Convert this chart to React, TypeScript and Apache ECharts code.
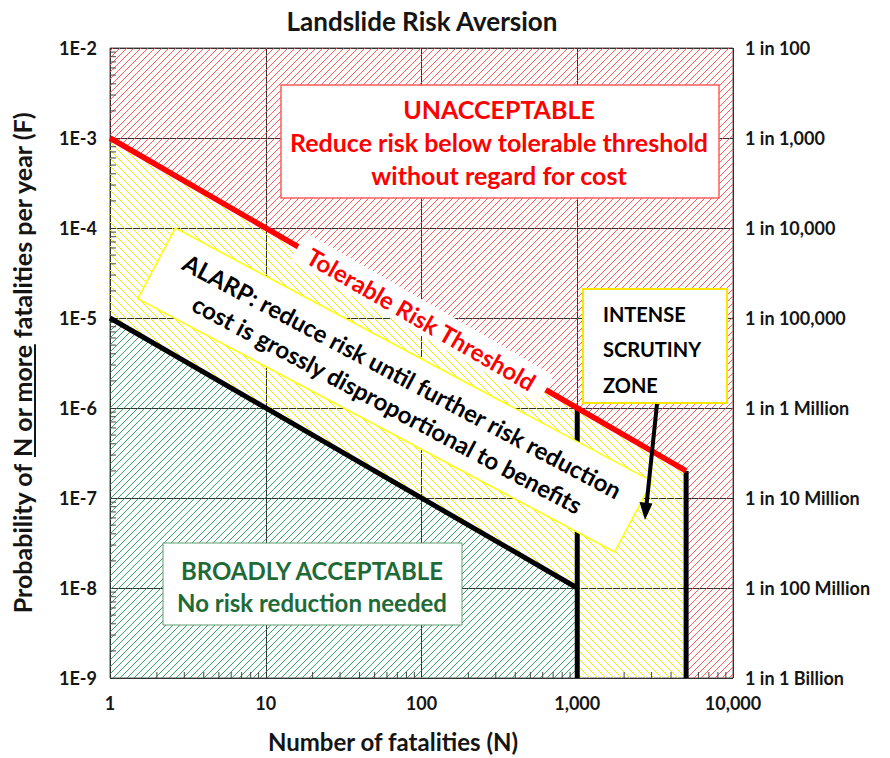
import React, { useEffect, useRef } from "react";
import * as echarts from "echarts";

const FONT = "Lato, 'Open Sans', 'DejaVu Sans', sans-serif";

// ---- text ----
const chartTitle = "Landslide Risk Aversion";
const xAxisTitle = "Number of fatalities (N)";
const yAxisTitleParts = ["Probability of ", "N or more", " fatalities per year (F)"];

// ---- axes ----
const nRange = [1, 10000];
const fRange = [1e-9, 1e-2];
const xTickLabels = ["1", "10", "100", "1,000", "10,000"]; // 10^0 .. 10^4
const yLeftLabels = ["1E-9", "1E-8", "1E-7", "1E-6", "1E-5", "1E-4", "1E-3", "1E-2"]; // 10^-9 .. 10^-2
const yRightLabels = [
  "1 in 1 Billion",
  "1 in 100 Million",
  "1 in 10 Million",
  "1 in 1 Million",
  "1 in 100,000",
  "1 in 10,000",
  "1 in 1,000",
  "1 in 100",
];
const minorMultipliers = [2, 3, 4, 5, 6, 7, 8, 9];
const xMinorDecades = [1, 10, 100, 1000];
const yMinorDecades = [1e-9, 1e-8, 1e-7, 1e-6, 1e-5, 1e-4, 1e-3];

// ---- criteria lines (N, F) ----
const tolerableLine: [number, number][] = [[1, 1e-3], [5000, 2e-7]];
const acceptableLine: [number, number][] = [[1, 1e-5], [1000, 1e-8]];
const alarpLimitLine: [number, number][] = [[1000, 1e-6], [1000, 1e-9]];
const scrutinyLimitLine: [number, number][] = [[5000, 2e-7], [5000, 1e-9]];

// ---- zones (polygons in N, F) ----
const unacceptableZone: [number, number][] = [
  [1, 1e-2], [10000, 1e-2], [10000, 1e-9], [5000, 1e-9], [5000, 2e-7], [1, 1e-3],
];
const alarpZone: [number, number][] = [
  [1, 1e-3], [5000, 2e-7], [5000, 1e-9], [1000, 1e-9], [1000, 1e-8], [1, 1e-5],
];
const acceptableZone: [number, number][] = [
  [1, 1e-5], [1000, 1e-8], [1000, 1e-9], [1, 1e-9],
];

function makeHatch(color: string, size: number, dir: 1 | -1, lw: number) {
  const c = document.createElement("canvas");
  c.width = size;
  c.height = size;
  const ctx = c.getContext("2d")!;
  ctx.strokeStyle = color;
  ctx.lineWidth = lw;
  ctx.beginPath();
  for (const o of [-size, 0, size]) {
    if (dir === 1) {
      ctx.moveTo(o - 1, size + 1);
      ctx.lineTo(o + size + 1, -1);
    } else {
      ctx.moveTo(o - 1, -1);
      ctx.lineTo(o + size + 1, size + 1);
    }
  }
  ctx.stroke();
  return { image: c, repeat: "repeat", imageWidth: size, imageHeight: size } as any;
}

function measure(text: string, font: string) {
  const c = document.createElement("canvas");
  const ctx = c.getContext("2d")!;
  ctx.font = font;
  return ctx.measureText(text).width;
}

export default function App() {
  const ref = useRef<HTMLDivElement>(null);

  useEffect(() => {
    if (!ref.current) return;
    const chart = echarts.init(ref.current, undefined, { renderer: "svg" });

    const patterns = [
      makeHatch("#ff4d4d", 7, 1, 0.9),
      makeHatch("#eeee00", 8, -1, 1),
      makeHatch("#1f9553", 7, 1, 0.9),
    ];
    const zones = [unacceptableZone, alarpZone, acceptableZone];

    const minorData: number[][] = [];
    yMinorDecades.forEach((d) => minorMultipliers.forEach((m) => minorData.push([nRange[0], m * d, 0])));
    xMinorDecades.forEach((d) => minorMultipliers.forEach((m) => minorData.push([m * d, fRange[0], 1])));

    const labelStyle = {
      fontFamily: FONT,
      fontWeight: "bold" as const,
      fontSize: 18,
      color: "#151515",
    };

    // y axis title pieces
    const yFont = `bold 25px ${FONT}`;
    const w0 = measure(yAxisTitleParts[0], yFont);
    const w1 = measure(yAxisTitleParts[1], yFont);
    const w2 = measure(yAxisTitleParts[2], yFont);
    const wTot = w0 + w1 + w2;
    const start = -wTot / 2;

    const lineSeries = (data: [number, number][], color: string, width: number) => ({
      type: "line",
      data,
      symbol: "none",
      lineStyle: { color, width, cap: "butt" },
      z: 5,
      silent: true,
    });

    const option: any = {
      animation: false,
      backgroundColor: "#ffffff",
      grid: {
        left: 110,
        right: 157,
        top: 48,
        bottom: 80,
        show: true,
        borderColor: "#555",
        borderWidth: 1,
        backgroundColor: "transparent",
      },
      xAxis: {
        type: "log",
        logBase: 10,
        min: nRange[0],
        max: nRange[1],
        axisLine: { show: false },
        axisTick: { show: false },
        splitLine: { show: true, lineStyle: { color: "#333", width: 1 } },
        axisLabel: {
          ...labelStyle,
          margin: 16,
          formatter: (v: number) => xTickLabels[Math.round(Math.log10(v))] ?? "",
        },
      },
      yAxis: [
        {
          type: "log",
          logBase: 10,
          min: fRange[0],
          max: fRange[1],
          position: "left",
          axisLine: { show: false },
          axisTick: { show: false },
          splitLine: { show: true, lineStyle: { color: "#333", width: 1 } },
          axisLabel: {
            ...labelStyle,
            margin: 13,
            formatter: (v: number) => yLeftLabels[Math.round(Math.log10(v)) + 9] ?? "",
          },
        },
        {
          type: "log",
          logBase: 10,
          min: fRange[0],
          max: fRange[1],
          position: "right",
          axisLine: { show: false },
          axisTick: { show: false },
          splitLine: { show: false },
          axisLabel: {
            ...labelStyle,
            margin: 12,
            formatter: (v: number) => yRightLabels[Math.round(Math.log10(v)) + 9] ?? "",
          },
        },
      ],
      series: [
        {
          type: "custom",
          coordinateSystem: "cartesian2d",
          xAxisIndex: 0,
          yAxisIndex: 0,
          silent: true,
          z: 1,
          data: [[1, 1e-5, 0], [1, 1e-5, 1], [1, 1e-5, 2]],
          renderItem: (_p: any, api: any) => {
            const idx = api.value(2);
            const pts = zones[idx].map((pt) => api.coord(pt));
            return {
              type: "polygon",
              shape: { points: pts },
              style: { fill: patterns[idx], stroke: "none" },
            };
          },
        },
        {
          type: "custom",
          coordinateSystem: "cartesian2d",
          xAxisIndex: 0,
          yAxisIndex: 0,
          silent: true,
          z: 3,
          clip: false,
          data: minorData,
          renderItem: (_p: any, api: any) => {
            const p = api.coord([api.value(0), api.value(1)]);
            const vertical = api.value(2) === 1;
            return {
              type: "line",
              shape: vertical
                ? { x1: p[0], y1: p[1], x2: p[0], y2: p[1] - 6 }
                : { x1: p[0], y1: p[1], x2: p[0] + 6, y2: p[1] },
              style: { stroke: "#444", lineWidth: 1 },
            };
          },
        },
        lineSeries(acceptableLine, "#000", 5),
        lineSeries(alarpLimitLine, "#000", 5),
        lineSeries(scrutinyLimitLine, "#000", 5),
        lineSeries(tolerableLine, "#ff0000", 5.5),
      ],
      graphic: [
        {
          type: "text",
          z: 100,
          x: 422,
          y: 21,
          style: {
            text: chartTitle,
            font: `bold 26px ${FONT}`,
            fill: "#151515",
            textAlign: "center",
            textVerticalAlign: "middle",
          },
        },
        {
          type: "text",
          z: 100,
          x: 393,
          y: 741,
          style: {
            text: xAxisTitle,
            font: `bold 24px ${FONT}`,
            fill: "#151515",
            textAlign: "center",
            textVerticalAlign: "middle",
          },
        },
        {
          type: "group",
          z: 100,
          x: 22,
          y: 362,
          rotation: Math.PI / 2,
          children: [
            {
              type: "text",
              z: 100,
              x: start,
              y: 0,
              style: { text: yAxisTitleParts[0], font: yFont, fill: "#151515", textAlign: "left", textVerticalAlign: "middle" },
            },
            {
              type: "text",
              z: 100,
              x: start + w0,
              y: 0,
              style: { text: yAxisTitleParts[1], font: yFont, fill: "#151515", textAlign: "left", textVerticalAlign: "middle" },
            },
            {
              type: "text",
              z: 100,
              x: start + w0 + w1,
              y: 0,
              style: { text: yAxisTitleParts[2], font: yFont, fill: "#151515", textAlign: "left", textVerticalAlign: "middle" },
            },
            {
              type: "rect",
              z: 100,
              shape: { x: start + w0, y: 12, width: w1, height: 2 },
              style: { fill: "#151515" },
            },
          ],
        },
        // UNACCEPTABLE box
        {
          type: "rect",
          z: 100,
          shape: { x: 281, y: 85, width: 438, height: 113 },
          style: { fill: "#fff", stroke: "#ff5c5c", lineWidth: 1.5 },
        },
        {
          type: "text",
          z: 101,
          x: 499,
          y: 142,
          style: {
            text: "UNACCEPTABLE\nReduce risk below tolerable threshold\nwithout regard for cost",
            font: `bold 25px ${FONT}`,
            lineHeight: 33,
            fill: "#ff0000",
            textAlign: "center",
            textVerticalAlign: "middle",
          },
        },
        // BROADLY ACCEPTABLE box
        {
          type: "rect",
          z: 100,
          shape: { x: 163, y: 543, width: 299, height: 82 },
          style: { fill: "#fff", stroke: "#5c9c70", lineWidth: 1 },
        },
        {
          type: "text",
          z: 101,
          x: 312,
          y: 586,
          style: {
            text: "BROADLY ACCEPTABLE\nNo risk reduction needed",
            font: `bold 24px ${FONT}`,
            lineHeight: 32,
            fill: "#1e6b37",
            textAlign: "center",
            textVerticalAlign: "middle",
          },
        },
        // INTENSE SCRUTINY box
        {
          type: "rect",
          z: 100,
          shape: { x: 583, y: 289, width: 144, height: 114 },
          style: { fill: "#fff", stroke: "#ffe600", lineWidth: 2 },
        },
        {
          type: "text",
          z: 101,
          x: 603,
          y: 349,
          style: {
            text: "INTENSE\nSCRUTINY\nZONE",
            font: `bold 20px ${FONT}`,
            lineHeight: 35.5,
            fill: "#000",
            textAlign: "left",
            textVerticalAlign: "middle",
          },
        },
        // arrow
        {
          type: "line",
          z: 101,
          shape: { x1: 657, y1: 404, x2: 646.5, y2: 505 },
          style: { stroke: "#000", lineWidth: 4 },
        },
        {
          type: "polygon",
          z: 101,
          shape: { points: [[639.5, 502], [652.5, 503.5], [645, 520]] },
          style: { fill: "#000" },
        },
        // ALARP rotated box
        {
          type: "group",
          z: 100,
          x: 395,
          y: 390,
          rotation: (-28 * Math.PI) / 180,
          children: [
            {
              type: "rect",
              z: 100,
              shape: { x: -270, y: -40, width: 540, height: 80 },
              style: { fill: "#fff", stroke: "#ffff00", lineWidth: 1.5 },
            },
            {
              type: "text",
              z: 101,
              x: 0,
              y: 0,
              style: {
                text: "ALARP: reduce risk until further risk reduction\ncost is grossly disproportional to benefits",
                font: `bold 24px ${FONT}`,
                lineHeight: 32,
                fill: "#000",
                textAlign: "center",
                textVerticalAlign: "middle",
              },
            },
          ],
        },
        // Tolerable Risk Threshold label on the line
        {
          type: "group",
          z: 100,
          x: 422,
          y: 318,
          rotation: -Math.atan(90 / 156),
          children: [
            {
              type: "rect",
              z: 100,
              shape: { x: -143, y: -16, width: 286, height: 32 },
              style: { fill: "#fff" },
            },
            {
              type: "text",
              z: 101,
              x: 0,
              y: 1,
              style: {
                text: "Tolerable Risk Threshold",
                font: `bold 24px ${FONT}`,
                fill: "#ff0000",
                textAlign: "center",
                textVerticalAlign: "middle",
              },
            },
          ],
        },
      ],
    };

    chart.setOption(option);
    return () => chart.dispose();
  }, []);

  return (
    <div
      ref={ref}
      style={{ position: "absolute", left: 0, top: 0, width: 890, height: 758 }}
    />
  );
}
